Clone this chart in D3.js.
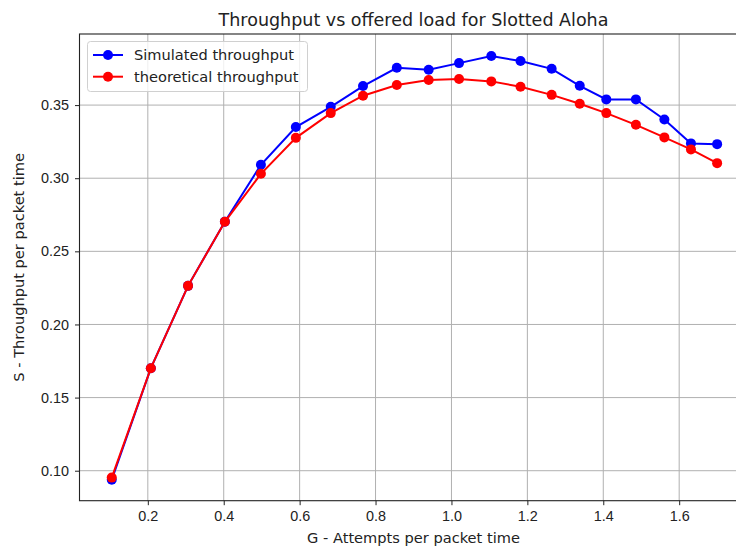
<!DOCTYPE html>
<html lang="en">
<head>
  <meta charset="UTF-8">
  <title>Slotted Aloha</title>
  <script src="https://d3js.org/d3.v7.min.js"></script>
  <style>
    body { margin: 0; background: #fff; }
    svg { display: block; font-family: "DejaVu Sans", sans-serif; }
    .tick text { font-size: 14.4px; fill: #222; }
    .grid line { stroke: #b0b0b0; stroke-width: 1; }
  </style>
</head>
<body>
  <div id="chart"></div>
  <script>
    // offered load G (x) and throughput values
    const gValues = [0.105, 0.208, 0.306, 0.403, 0.498, 0.590, 0.682, 0.767, 0.856, 0.940,
                     1.020, 1.105, 1.182, 1.264, 1.338, 1.408, 1.486, 1.561, 1.631, 1.700];
    const simulated = [0.0938, 0.1701, 0.2264, 0.2703, 0.3092, 0.3350, 0.3488, 0.3630, 0.3755, 0.3741,
                       0.3787, 0.3835, 0.3801, 0.3748, 0.3632, 0.3539, 0.3539, 0.3402, 0.3238, 0.3233];
    const theoretical = [0.0953, 0.1701, 0.2264, 0.2702, 0.3030, 0.3276, 0.3445, 0.3564, 0.3637, 0.3671,
                         0.3678, 0.3662, 0.3625, 0.3570, 0.3509, 0.3445, 0.3365, 0.3279, 0.3197, 0.3103];
    const xTicks = [0.2, 0.4, 0.6, 0.8, 1.0, 1.2, 1.4, 1.6];
    const yTicks = [0.10, 0.15, 0.20, 0.25, 0.30, 0.35];
    const seriesNames = ["Simulated throughput", "theoretical throughput"];
    const seriesColors = ["#0000ff", "#ff0000"];

    const W = 736, H = 549;
    const margin = { top: 34, left: 79.5, bottom: 500.7, right: 747.5 };

    const svg = d3.select("#chart").append("svg")
      .attr("width", W).attr("height", H);

    const x = d3.scaleLinear().domain([0.02, 1.78]).range([margin.left, margin.right]);
    const y = d3.scaleLinear().domain([0.0795, 0.3986]).range([margin.bottom, margin.top]);

    // grid
    svg.append("g").attr("class", "grid")
      .selectAll("line").data(xTicks).join("line")
      .attr("x1", d => x(d)).attr("x2", d => x(d))
      .attr("y1", margin.top).attr("y2", margin.bottom);
    svg.append("g").attr("class", "grid")
      .selectAll("line").data(yTicks).join("line")
      .attr("x1", margin.left).attr("x2", margin.right)
      .attr("y1", d => y(d)).attr("y2", d => y(d));

    // axes
    svg.append("g")
      .attr("transform", "translate(0," + margin.bottom + ")")
      .call(d3.axisBottom(x).tickValues(xTicks).tickFormat(d3.format(".1f")).tickSizeOuter(0).tickSize(4.5).tickPadding(6));
    svg.append("g")
      .attr("transform", "translate(" + margin.left + ",0)")
      .call(d3.axisLeft(y).tickValues(yTicks).tickFormat(d3.format(".2f")).tickSizeOuter(0).tickSize(4.5).tickPadding(6));
    svg.selectAll(".domain").remove();
    svg.selectAll(".tick line").attr("stroke", "#222").attr("stroke-width", 1);

    // spines
    svg.append("rect")
      .attr("x", margin.left).attr("y", margin.top)
      .attr("width", margin.right - margin.left).attr("height", margin.bottom - margin.top)
      .attr("fill", "none").attr("stroke", "#222").attr("stroke-width", 1.1);

    // series
    const allSeries = [simulated, theoretical];
    const line = d3.line().x((d, i) => x(gValues[i])).y(d => y(d));
    allSeries.forEach((vals, k) => {
      const g = svg.append("g");
      g.append("path").datum(vals)
        .attr("d", line)
        .attr("fill", "none")
        .attr("stroke", seriesColors[k])
        .attr("stroke-width", 2);
      g.selectAll("circle").data(vals).join("circle")
        .attr("cx", (d, i) => x(gValues[i]))
        .attr("cy", d => y(d))
        .attr("r", 5)
        .attr("fill", seriesColors[k]);
    });

    // legend
    const legend = svg.append("g");
    legend.append("rect")
      .attr("x", 87.5).attr("y", 41.5).attr("width", 220).attr("height", 50).attr("rx", 3)
      .attr("fill", "#fff").attr("fill-opacity", 0.8)
      .attr("stroke", "#d0d0d0").attr("stroke-width", 1);
    seriesNames.forEach((name, k) => {
      const yy = 55 + k * 21.7;
      legend.append("line")
        .attr("x1", 93).attr("x2", 123).attr("y1", yy).attr("y2", yy)
        .attr("stroke", seriesColors[k]).attr("stroke-width", 2);
      legend.append("circle").attr("cx", 108).attr("cy", yy).attr("r", 5).attr("fill", seriesColors[k]);
      legend.append("text")
        .attr("x", 134).attr("y", yy).attr("dy", "0.35em")
        .attr("font-size", 14.6).attr("fill", "#222")
        .text(name);
    });

    // title and labels
    svg.append("text")
      .attr("x", (margin.left + margin.right) / 2).attr("y", 26)
      .attr("text-anchor", "middle").attr("font-size", 17.5).attr("fill", "#222")
      .text("Throughput vs offered load for Slotted Aloha");
    svg.append("text")
      .attr("x", (margin.left + margin.right) / 2).attr("y", 543)
      .attr("text-anchor", "middle").attr("font-size", 14.6).attr("fill", "#222")
      .text("G - Attempts per packet time");
    svg.append("text")
      .attr("transform", "translate(24," + (margin.top + margin.bottom) / 2 + ") rotate(-90)")
      .attr("text-anchor", "middle").attr("font-size", 14.6).attr("fill", "#222")
      .text("S - Throughput per packet time");
  </script>
</body>
</html>
